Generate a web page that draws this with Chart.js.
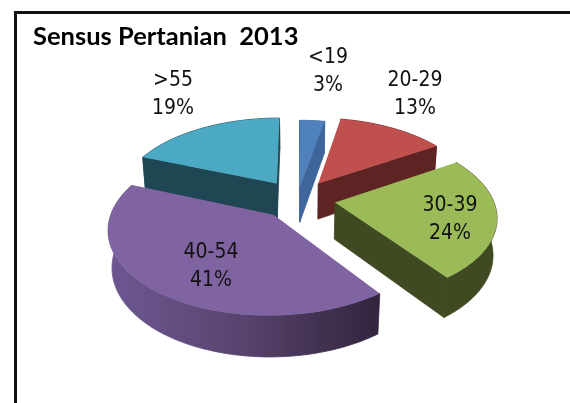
<!DOCTYPE html>
<html>
<head>
<meta charset="utf-8">
<style>
html,body{margin:0;padding:0;background:#fff;width:570px;height:403px;overflow:hidden}
#frame{position:absolute;left:14px;top:11px;width:570px;height:400px;border-top:3px solid #111;border-left:3px solid #111}
canvas{position:absolute;left:0;top:0}
</style>
<script src="https://cdn.jsdelivr.net/npm/chart.js@4"></script>
</head>
<body>
<div id="frame"></div>
<canvas id="c" width="570" height="403"></canvas>
<script>
const categories = ['<19', '20-29', '30-39', '40-54', '>55'];
const percents = [3, 13, 24, 41, 19];
const topColors = ['#4F81BD', '#C0504D', '#9BBB59', '#8064A2', '#4BA9C3'];
const wallColors = ['#3E669A', '#5E2423', '#404A22', '#4E3D66', '#1F4653'];
const explode = [0.16, 0.24, 0.24, 0.24, 0.24];
const drawOrder = [4, 0, 1, 2, 3];
const labelAnchors = [[328, 72], [415, 95], [450, 220], [211, 267], [173, 95]];

const P = {x0: 297.5, y0: 199, R: 158, S: 80, k: 0.154, m: 0.02, H: 37};
function project(u, v, z) {
  const w = 1 - P.k * v + P.m * z;
  return [P.x0 + P.R * u / w, P.y0 + (P.S * v + P.H * z) / w];
}
function fillPoly(ctx, pts, fill, seal) {
  ctx.beginPath();
  pts.forEach((p, i) => i ? ctx.lineTo(p[0], p[1]) : ctx.moveTo(p[0], p[1]));
  ctx.closePath();
  ctx.fillStyle = fill;
  ctx.fill();
  if (seal) {
    ctx.strokeStyle = fill;
    ctx.lineWidth = 0.8;
    ctx.stroke();
  }
}
function faceCross(c0, e0, e1) {
  return (e0[0] - c0[0]) * (e1[1] - e0[1]) - (e0[1] - c0[1]) * (e1[0] - e0[0]);
}
const pie3d = {
  id: 'pie3d',
  beforeDatasetDraw(chart, args) {
    const ctx = chart.ctx;
    const meta = chart.getDatasetMeta(args.index);
    drawOrder.forEach(i => {
      const arc = meta.data[i];
      const a0 = arc.startAngle, a1 = arc.endAngle, mid = (a0 + a1) / 2;
      const ou = explode[i] * Math.cos(mid), ov = explode[i] * Math.sin(mid);
      const steps = Math.max(4, Math.ceil((a1 - a0) * 180 / Math.PI));
      const at = (a, z) => project(ou + Math.cos(a), ov + Math.sin(a), z);
      const top = [], bottom = [];
      for (let s = 0; s <= steps; s++) {
        const a = a0 + (a1 - a0) * s / steps;
        top.push(at(a, 0));
        bottom.push(at(a, 1));
      }
      const c0 = project(ou, ov, 0), c1 = project(ou, ov, 1);
      let wall = wallColors[i];
      if (i === 3) {
        wall = ctx.createLinearGradient(108, 0, 375, 0);
        wall.addColorStop(0, '#6E5792');
        wall.addColorStop(0.45, '#5B4672');
        wall.addColorStop(1, '#33263F');
      }
      fillPoly(ctx, top.concat(bottom.slice().reverse()), wall, true);
      if (faceCross(c0, top[0], bottom[0]) < 0) fillPoly(ctx, [c0, top[0], bottom[0], c1], wallColors[i], true);
      if (faceCross(c0, top[steps], bottom[steps]) > 0) fillPoly(ctx, [c0, top[steps], bottom[steps], c1], wallColors[i], true);
      fillPoly(ctx, [c0].concat(top), arc.options.backgroundColor);
    });
    return false;
  },
  afterDatasetsDraw(chart) {
    const ctx = chart.ctx;
    ctx.save();
    ctx.font = '21px "DejaVu Sans Condensed", "DejaVu Sans"';
    ctx.fillStyle = '#111';
    ctx.textAlign = 'center';
    ctx.textBaseline = 'middle';
    categories.forEach((c, i) => {
      const [x, y] = labelAnchors[i];
      ctx.fillText(c, x, y - 14);
      ctx.fillText(percents[i] + '%', x, y + 14);
    });
    ctx.restore();
  }
};
new Chart(document.getElementById('c'), {
  type: 'pie',
  data: {
    labels: categories,
    datasets: [{data: percents, backgroundColor: topColors, borderWidth: 0}]
  },
  plugins: [pie3d],
  options: {
    responsive: false,
    animation: false,
    layout: {padding: {left: 33, top: 21, right: 0, bottom: 0}},
    plugins: {
      legend: {display: false},
      tooltip: {enabled: false},
      title: {
        display: true,
        text: 'Sensus Pertanian  2013',
        align: 'start',
        color: '#000',
        padding: 0,
        font: {family: 'Lato', weight: 'bold', size: 25.5}
      }
    }
  }
});
</script>
</body>
</html>
